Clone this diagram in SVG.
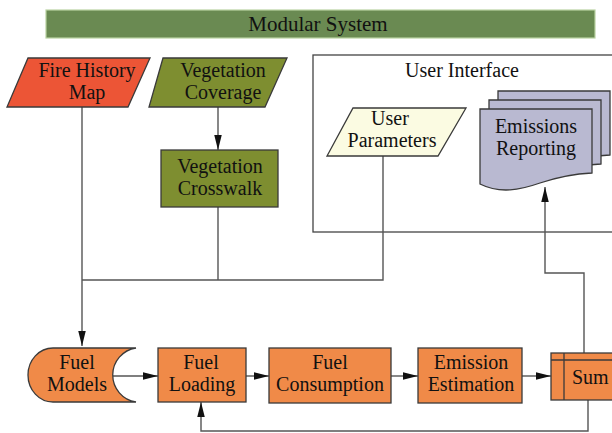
<svg xmlns="http://www.w3.org/2000/svg" width="612" height="433" viewBox="0 0 612 433">
<style>
  text { font-family: "Liberation Serif", "Times New Roman", serif; font-size: 20px; fill: #111; text-anchor: middle; }
  .box { stroke: #3a3a3a; stroke-width: 1.3; }
  .orange { fill: #f08a48; }
  .olive { fill: #7e8e30; }
  .conn { fill: none; stroke: #555; stroke-width: 1.4; }
</style>
<defs>
  <marker id="arr" markerUnits="userSpaceOnUse" markerWidth="15" markerHeight="8" refX="15" refY="3.75" orient="auto">
    <path d="M0,0 L15,3.75 L0,7.5 Z" fill="#111"/>
  </marker>
</defs>
<rect width="612" height="433" fill="#fff"/>

<g id="modular-system">
  <rect x="46" y="10" width="549" height="28" fill="#6a8a52" stroke="#b9d2a2" stroke-width="1.2"/>
  <text x="318" y="31" style="font-size:21px">Modular System</text>
</g>

<g id="user-interface">
  <rect x="313" y="55" width="310" height="177" fill="none" stroke="#444" stroke-width="1.3"/>
  <text x="462" y="77">User Interface</text>
</g>

<g id="connectors">
  <path class="conn" d="M82,107 V346" marker-end="url(#arr)"/>
  <path class="conn" d="M218,107 V150" marker-end="url(#arr)"/>
  <path class="conn" d="M218,207 V280"/>
  <path class="conn" d="M383,156 V280 H82"/>
  <path class="conn" d="M113,376 H158" marker-end="url(#arr)"/>
  <path class="conn" d="M246,376 H269" marker-end="url(#arr)"/>
  <path class="conn" d="M391,376 H418" marker-end="url(#arr)"/>
  <path class="conn" d="M522,376 H551" marker-end="url(#arr)"/>
  <path class="conn" d="M584,353 V273 H545 V187" marker-end="url(#arr)"/>
  <path class="conn" d="M588,400 V431 H201 V402" marker-end="url(#arr)"/>
</g>

<g id="fire-history-map">
  <polygon class="box" points="28,58 150,58 128,107 7,107" fill="#ec5536"/>
  <text x="87" y="77">Fire History</text>
  <text x="87" y="99">Map</text>
</g>

<g id="vegetation-coverage">
  <polygon class="box olive" points="163,58 287,58 265,107 149,107"/>
  <text x="223" y="77">Vegetation</text>
  <text x="223" y="99">Coverage</text>
</g>

<g id="vegetation-crosswalk">
  <rect class="box olive" x="161" y="150" width="117" height="57"/>
  <text x="220" y="173">Vegetation</text>
  <text x="220" y="195">Crosswalk</text>
</g>

<g id="user-parameters">
  <polygon class="box" points="353,108 466,108 438,156 327,156" fill="#fbfbe2"/>
  <text x="390" y="125">User</text>
  <text x="392" y="147">Parameters</text>
</g>

<g id="emissions-reporting">
  <path class="box" fill="#b9b9d1" transform="translate(18,-18)" d="M480,109 H592 V173 C570,174 555,178 540,183 C520,190 500,194 480,184 Z"/>
  <path class="box" fill="#b9b9d1" transform="translate(9,-9)" d="M480,109 H592 V173 C570,174 555,178 540,183 C520,190 500,194 480,184 Z"/>
  <path class="box" fill="#b9b9d1" d="M480,109 H592 V173 C570,174 555,178 540,183 C520,190 500,194 480,184 Z"/>
  <text x="536" y="133">Emissions</text>
  <text x="536" y="155">Reporting</text>
</g>

<g id="fuel-models">
  <path class="box orange" d="M53,348 H136 A27.3,27.3 0 0 0 136,402 H53 A25,27 0 0 1 53,348 Z"/>
  <text x="77" y="369">Fuel</text>
  <text x="77" y="391">Models</text>
</g>

<g id="fuel-loading">
  <rect class="box orange" x="158" y="348" width="88" height="54"/>
  <text x="201" y="369">Fuel</text>
  <text x="202" y="391">Loading</text>
</g>

<g id="fuel-consumption">
  <rect class="box orange" x="269" y="348" width="122" height="55"/>
  <text x="330" y="369">Fuel</text>
  <text x="330" y="391">Consumption</text>
</g>

<g id="emission-estimation">
  <rect class="box orange" x="418" y="348" width="104" height="55"/>
  <text x="471" y="369">Emission</text>
  <text x="471" y="391">Estimation</text>
</g>

<g id="sum">
  <rect class="box orange" x="551" y="353" width="70" height="47"/>
  <path class="box" fill="none" d="M551,360 H621 M564,353 V400"/>
  <text x="572" y="384" style="text-anchor:start">Sum</text>
</g>
</svg>
